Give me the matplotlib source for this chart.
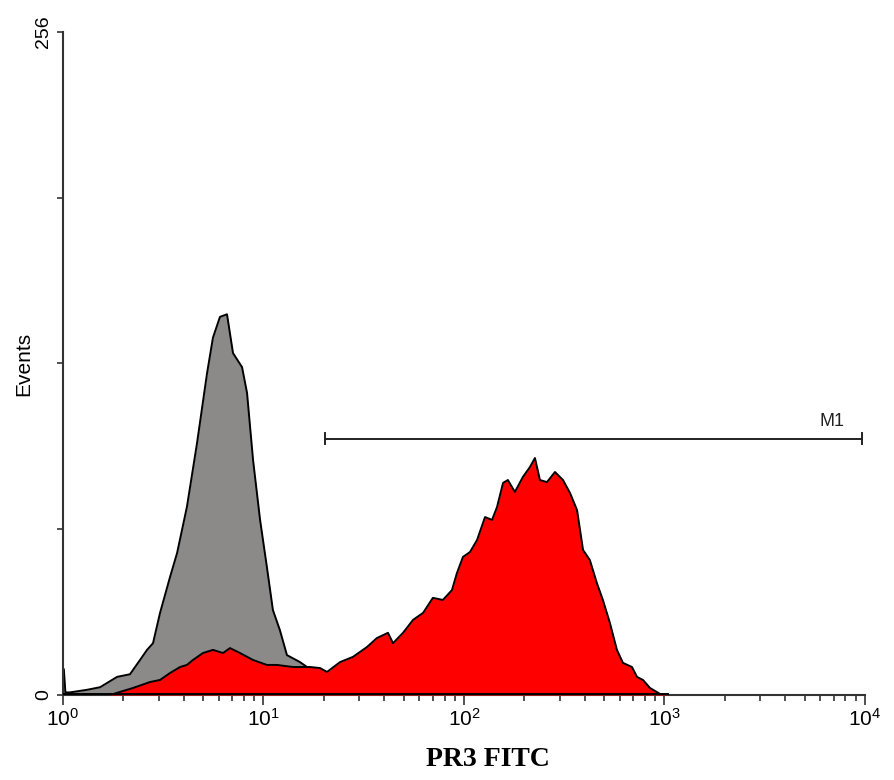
import numpy as np
import matplotlib
matplotlib.use('Agg')
import matplotlib.pyplot as plt

# histogram outlines (x in log10 units of fluorescence)
gray_log = [0.0, 0.004, 0.012, 0.035, 0.12, 0.185, 0.27, 0.334, 0.384, 0.419, 0.449, 0.484,
            0.534, 0.569, 0.618, 0.668, 0.718, 0.748, 0.783, 0.818, 0.848, 0.893,
            0.918, 0.948, 0.983, 1.017, 1.047, 1.082, 1.117, 1.182, 1.232, 1.33, 1.48]
gray_counts = [10, 10, 1, 1, 2, 3, 7, 8, 13.5, 17.4, 20, 31.7,
               45.6, 54.8, 72.6, 97, 124, 138, 146, 147, 132, 126.6,
               116.6, 90.7, 67.6, 49.4, 32.8, 25, 15.4, 12.7, 10, 3, 0]

red_log = [0.234, 0.349, 0.434, 0.484, 0.534, 0.584, 0.618, 0.648, 0.698, 0.748,
           0.798, 0.833, 0.883, 0.948, 1.017, 1.067, 1.147, 1.232, 1.282, 1.317,
           1.382, 1.446, 1.516, 1.566, 1.621, 1.646, 1.696, 1.746, 1.796, 1.845,
           1.895, 1.940, 1.965, 1.995, 2.030, 2.065, 2.105, 2.140, 2.165, 2.195,
           2.219, 2.254, 2.294, 2.329, 2.354, 2.379, 2.414, 2.454, 2.494, 2.529,
           2.564, 2.594, 2.628, 2.663, 2.693, 2.728, 2.763, 2.793, 2.838, 2.863,
           2.893, 2.928, 2.978, 3.017]
red_counts = [0, 2.7, 5, 5.8, 8.5, 10.8, 11.6, 13.5, 16.2, 17.4,
              16.2, 18.1, 16.2, 13.5, 11.6, 11.6, 10.8, 10.8, 10.4, 8.9,
              12.7, 14.7, 18.5, 22, 24, 20, 24, 29, 31.7, 37.5,
              36.7, 40.5, 47.1, 53.3, 55.2, 59.8, 68.7, 67.6, 72.6, 81.9,
              83, 78.4, 84.2, 88, 91.5, 83, 82.2, 86.1, 83, 78,
              71.4, 56, 52.1, 43.2, 36.7, 27.8, 17.4, 12.4, 10.8, 7,
              5.8, 2.7, 0.4, 0]

marker_range = [20.3, 9660]
marker_level = 99
marker_label = 'M1'

fig = plt.figure(figsize=(8.95, 7.8), dpi=100)
ax = fig.add_axes([0.0704, 0.109, 0.896, 0.85])

gx = 10 ** np.array(gray_log)
rx = 10 ** np.array(red_log)

ax.fill_between(gx, gray_counts, color='#8c8989', lw=0, zorder=1)
ax.plot(gx, gray_counts, color='black', lw=1.4, zorder=2)
ax.fill_between(rx, red_counts, color='#ff0000', lw=0, zorder=3)
ax.plot(rx, red_counts, color='black', lw=1.4, zorder=4)
ax.plot([1, 10 ** red_log[-1]], [0.3, 0.3], color='black', lw=1.4, zorder=4)

# marker bar
ax.plot(marker_range, [marker_level, marker_level], color='#222222', lw=1.4, zorder=5)
for xm in marker_range:
    ax.plot([xm, xm], [marker_level - 2.2, marker_level + 2.2], color='#222222', lw=1.4)
ax.text(marker_range[1] * 0.71, marker_level + 3.5, marker_label, ha='center', va='bottom',
        fontsize=13, family='Liberation Sans', color='#222222')

ax.set_xscale('log')
ax.set_xlim(1, 1e4)
ax.set_ylim(0, 256)

for s in ['top', 'right']:
    ax.spines[s].set_visible(False)
for s in ['left', 'bottom']:
    ax.spines[s].set_color('#333333')
    ax.spines[s].set_linewidth(1.5)

ax.set_yticks([0, 64, 128, 192, 256])
ax.set_yticklabels(['0', '', '', '', '256'], rotation=90, va='center')
ax.tick_params(axis='y', length=4, width=1.2, color='#333333', labelsize=14, pad=4)
ax.tick_params(axis='x', which='major', length=7, width=1.2, color='#333333', labelsize=15, pad=2)
ax.tick_params(axis='x', which='minor', length=4, width=1.2, color='#333333')
for lab in ax.get_xticklabels() + ax.get_yticklabels():
    lab.set_family('Liberation Sans')

ax.set_ylabel('Events', fontsize=15, family='Liberation Sans', labelpad=1)
ax.set_xlabel('PR3 FITC', fontsize=20, family='Liberation Serif', fontweight='bold')
ax.xaxis.set_label_coords(0.53, -0.078)

fig.savefig('out.png', dpi=100)
